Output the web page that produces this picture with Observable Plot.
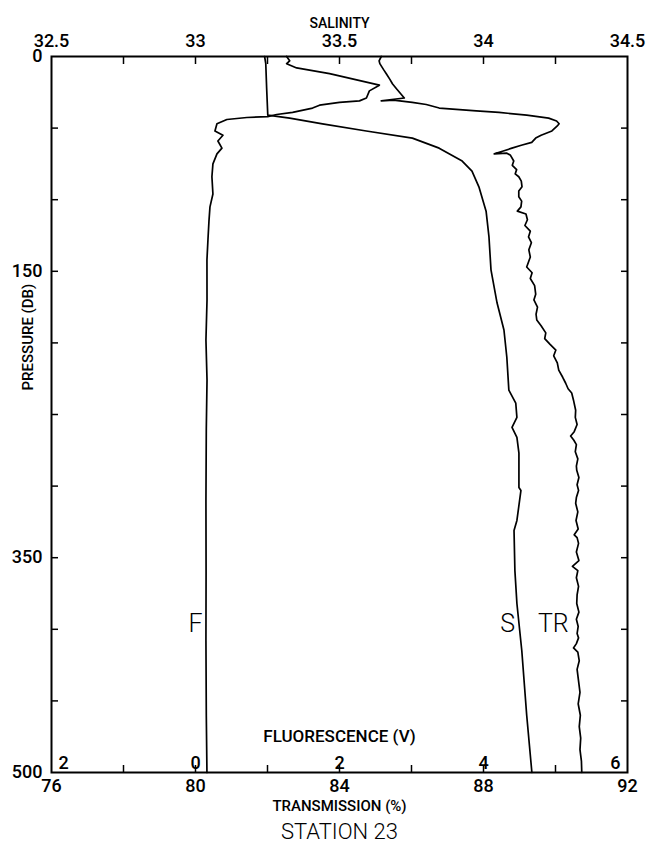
<!DOCTYPE html>
<html><head><meta charset="utf-8">
<script src="https://cdn.jsdelivr.net/npm/d3@7"></script>
<script src="https://cdn.jsdelivr.net/npm/@observablehq/plot@0.6"></script>
<style>html,body{margin:0;padding:0;background:#fff}</style>
</head><body><div id="chart"></div>
<script>
// ---- axis ticks / labels ----
const salinityTicks = [32.5, 33, 33.5, 34, 34.5];
const salinityMinorTicks = [32.75, 33, 33.25, 33.5, 33.75, 34, 34.25];
const transmissionTicks = [76, 80, 84, 88, 92];
const transmissionMinorTicks = [78, 80, 82, 84, 86, 88, 90];
const fluorescenceTicks = [-2, 0, 2, 4, 6];
const fluorescenceTickLabels = ["2", "0", "2", "4", "6"];
const pressureTicks = [50, 100, 150, 200, 250, 300, 350, 400, 450];
const pressureLabels = [0, 150, 350, 500];

// ---- salinity profile (S) ----
const salinityP = [0, 5, 22, 41, 43, 47, 52, 57, 64, 73, 80, 91, 108, 126, 149, 172, 191, 210, 233, 242, 252, 259, 266, 277, 301, 303, 324, 331, 359, 382, 415, 460, 500];
const salinityV = [33.24, 33.244, 33.247, 33.251, 33.327, 33.441, 33.593, 33.753, 33.846, 33.926, 33.96, 33.984, 34.009, 34.019, 34.026, 34.047, 34.071, 34.081, 34.088, 34.112, 34.116, 34.099, 34.116, 34.123, 34.123, 34.13, 34.116, 34.106, 34.109, 34.116, 34.133, 34.15, 34.168];

// ---- transmission profile (TR) ----
const transP = [0, 3, 5, 9, 12, 16, 19, 23, 26, 29, 31, 30.5, 32, 33.5, 36, 38, 39, 41, 43, 45, 47, 48.5, 52, 55, 57, 60, 62, 64, 66, 68, 67.5, 69, 73, 76, 79, 82, 84, 87, 91, 94, 98, 101, 105, 108, 110, 114, 118, 122, 126, 130, 135, 140, 147, 151, 155, 160, 166, 170, 175, 180, 184, 188, 193, 197, 201, 205, 209, 214, 219, 224, 228, 232, 235, 240, 247, 252, 257, 262, 265, 268, 271, 276, 281, 286, 289, 294, 299, 303, 308, 312, 318, 324, 330, 334, 336, 340, 346, 352, 356, 359, 364, 370, 376, 382, 388, 393, 398, 403, 406, 410, 413, 416, 422, 428, 436, 444, 452, 460, 468, 476, 484, 492, 500];
const transV = [85.16, 85.10, 85.12, 85.22, 85.30, 85.40, 85.47, 85.60, 85.70, 85.80, 85.16, 85.50, 86.02, 86.41, 86.77, 87.8, 88.43, 89.2, 89.81, 90.03, 90.10, 90.05, 89.90, 89.60, 89.45, 89.34, 89.05, 88.79, 88.55, 88.30, 88.65, 88.75, 88.84, 88.80, 88.92, 88.88, 88.98, 89.05, 89.07, 88.98, 88.98, 89.06, 89.04, 88.94, 89.18, 89.22, 89.15, 89.30, 89.25, 89.33, 89.26, 89.30, 89.20, 89.35, 89.30, 89.42, 89.45, 89.40, 89.50, 89.46, 89.48, 89.60, 89.73, 89.70, 89.85, 90.01, 89.95, 90.05, 90.09, 90.20, 90.28, 90.35, 90.45, 90.50, 90.56, 90.55, 90.60, 90.52, 90.42, 90.51, 90.58, 90.55, 90.62, 90.58, 90.59, 90.65, 90.60, 90.64, 90.58, 90.56, 90.62, 90.57, 90.63, 90.52, 90.60, 90.64, 90.58, 90.65, 90.47, 90.62, 90.58, 90.64, 90.60, 90.59, 90.65, 90.58, 90.63, 90.60, 90.64, 90.58, 90.50, 90.62, 90.66, 90.60, 90.64, 90.68, 90.63, 90.69, 90.66, 90.70, 90.68, 90.72, 90.73];

// ---- fluorescence profile (F) ----
const fluorP = [0, 3, 5, 8, 12, 20, 24, 29, 31, 32, 34, 36, 39, 40.5, 42, 42.6, 44, 47, 52, 55, 59, 64, 68, 75, 84, 96, 105, 115, 128, 142, 170, 198, 226, 260, 310, 360, 408, 460, 500];
const fluorV = [1.266, 1.308, 1.266, 1.405, 1.862, 2.554, 2.415, 2.374, 2.277, 2.0, 1.723, 1.626, 1.349, 1.128, 1.003, 0.713, 0.436, 0.298, 0.27, 0.381, 0.311, 0.367, 0.298, 0.242, 0.228, 0.242, 0.201, 0.187, 0.173, 0.159, 0.16, 0.145, 0.16, 0.15, 0.145, 0.147, 0.145, 0.15, 0.159];

// ---- curve labels ----
const curveLabelText = ["F", "S", "TR"];
const curveLabelX = [80.0, 88.67, 89.94];   // in transmission units
const curveLabelP = [396, 396, 396];

// axis relationships: all series share the transmission x-scale
const salToT = s => 76 + (s - 32.5) * 8;
const flToT = f => 80 + f * 2;
const tToSal = t => 32.5 + (t - 76) / 8;

const idx = arr => d3.range(arr.length);
const font = "Roboto, 'DejaVu Sans', sans-serif";

const chart = Plot.plot({
  width: 650,
  height: 848,
  marginTop: 56,
  marginBottom: 76,
  marginLeft: 51,
  marginRight: 23,
  style: {fontFamily: font, fontSize: "18px", fontWeight: 500, color: "black", background: "white"},
  x: {domain: [76, 92], axis: null},
  y: {domain: [0, 500], reverse: true, axis: null, label: null},
  marks: [
    // series
    Plot.line(idx(fluorP), {x: i => flToT(fluorV[i]), y: i => fluorP[i], stroke: "black", strokeWidth: 1.7}),
    Plot.line(idx(salinityP), {x: i => salToT(salinityV[i]), y: i => salinityP[i], stroke: "black", strokeWidth: 1.7}),
    Plot.line(idx(transP), {x: i => transV[i], y: i => transP[i], stroke: "black", strokeWidth: 1.7}),
    // top salinity axis
    Plot.axisX(salinityMinorTicks.map(salToT), {anchor: "top", tickSize: -7, strokeWidth: 1.5, tickFormat: () => "", label: null}),
    Plot.axisX(salinityTicks.map(salToT), {anchor: "top", tickSize: 0, tickPadding: 10, tickFormat: t => d3.format("~g")(+tToSal(t).toFixed(2)), label: null}),
    Plot.text(["SALINITY"], {frameAnchor: "top", dy: -38, fontSize: 14, fontFamily: font}),
    // bottom transmission axis
    Plot.axisX(transmissionMinorTicks, {anchor: "bottom", tickSize: -7, strokeWidth: 1.5, tickFormat: () => "", label: null}),
    Plot.axisX(transmissionTicks, {anchor: "bottom", tickSize: 0, tickPadding: 7, tickFormat: d => String(d), label: null}),
    Plot.text(["TRANSMISSION (%)"], {frameAnchor: "bottom", dy: 38, fontSize: 15, fontFamily: font}),
    // fluorescence labels (inside the frame)
    Plot.text(fluorescenceTicks.slice(1, -1), {x: flToT, frameAnchor: "bottom", dy: -4, lineAnchor: "bottom", text: (d, i) => fluorescenceTickLabels[i + 1], fontSize: 18}),
    Plot.text(fluorescenceTicks.slice(0, 1), {x: flToT, frameAnchor: "bottom", dy: -4, dx: 7, textAnchor: "start", lineAnchor: "bottom", text: () => fluorescenceTickLabels[0], fontSize: 18}),
    Plot.text(fluorescenceTicks.slice(-1), {x: flToT, frameAnchor: "bottom", dy: -4, dx: -7, textAnchor: "end", lineAnchor: "bottom", text: () => fluorescenceTickLabels[fluorescenceTickLabels.length - 1], fontSize: 18}),
    Plot.text(["FLUORESCENCE (V)"], {frameAnchor: "bottom", dy: -31, fontSize: 17, fontFamily: font}),
    // pressure axes
    Plot.axisY(pressureTicks, {anchor: "left", tickSize: -7, strokeWidth: 1.5, tickFormat: () => "", label: null}),
    Plot.axisY(pressureTicks, {anchor: "right", tickSize: -7, strokeWidth: 1.5, tickFormat: () => "", label: null}),
    Plot.axisY(pressureLabels, {anchor: "left", tickSize: 0, tickPadding: 9, tickFormat: d => String(d), label: null}),
    Plot.text(["PRESSURE (DB)"], {frameAnchor: "left", dx: -23, dy: -24, rotate: -90, fontSize: 15, fontFamily: font}),
    // curve labels
    Plot.text(idx(curveLabelText), {x: i => curveLabelX[i], y: i => curveLabelP[i], text: i => curveLabelText[i], fontSize: 25, fontWeight: 300, fontFamily: font}),
    // station title
    Plot.text(["STATION 23"], {frameAnchor: "bottom", dy: 66, fontSize: 22, fontWeight: 300, fontFamily: font}),
    Plot.frame({stroke: "black", strokeWidth: 2})
  ]
});
document.getElementById("chart").appendChild(chart);
</script></body></html>
